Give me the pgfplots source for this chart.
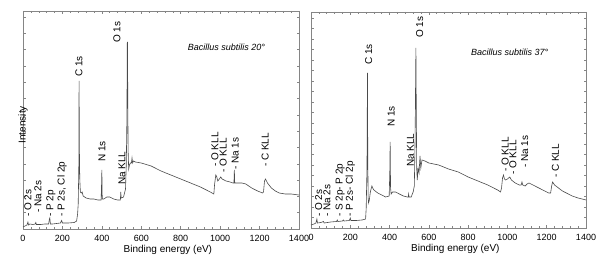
\documentclass[border=0pt]{standalone}
\usepackage{fontspec}
\setmainfont{Liberation Sans}
\usepackage{pgfplots}
\pgfplotsset{compat=1.18}
\definecolor{axgray}{HTML}{858585}
\definecolor{linegray}{HTML}{4A4A4A}

\pgfplotstableread{
be h
0 2
10 3
20 4
25 7
28 4
35 5
50 4.5
62 5
65 6.5
68 4.5
90 4.5
110 5
130 5
134 10
136 11
139 5
150 5
170 5.5
190 6
196 8.5
200 6
230 6
260 6.5
272 8
277 15
280 25
283 60
284.5 148
286 80
288 50
291 37
296 36
300 37
305 33
320 31
340 30
360 30
380 29
396 29
398 40
400 59
402 30
410 30
425 32
440 32
460 30
480 29
494 29
496 37
498 31
510 32
520 40
524 65
527 110
529 186
530 187
531 150
533 80
536 60
540 64
545 66
550 66
553 71
556 66
560 68
570 67
600 66
650 63
700 58
750 54
800 50
850 46
900 42
950 37
968 35
972 45
978 54
983 52
988 48
996 50
1003 52
1010 50
1030 48
1050 47
1065 46
1070 46
1072 59
1074 46
1090 46
1110 46
1130 45
1160 41
1190 38
1215 36
1220 37
1225 48
1230 50
1240 46
1260 41
1280 38
1300 36
1330 35
1360 35
1400 34
}\specA

\pgfplotstableread{
be h
0 3
15 4
25 5
30 9
33 5
50 5.5
64 6.5
67 5
100 6
130 6.5
134 8
137 6.5
160 7
165 8
168 7
195 7.5
200 10
203 7.5
230 7.5
260 8
278 9
281 20
285 60
287.5 155
289 70
291 30
293 25
297 28
302 36
310 42
314 40
320 38
340 35
360 33
380 31
398 32
401 55
403 86
405 40
408 34
415 36
430 36
450 34
470 32
490 31
495 31
497 34
499 31
510 31
520 36
526 42
530 90
534 180
536 120
538 60
541 48
545 60
550 55
555 72
559 60
565 68
580 67
600 65
650 63
700 59
750 56
800 51
850 47
900 43
950 38
965 36
970 40
975 50
980 53
985 49
990 48
1000 49
1012 51
1020 48
1040 45
1060 43
1070 43
1074 46
1078 43
1090 42
1100 44
1110 45
1120 44
1150 41
1180 38
1210 35
1220 35
1225 42
1230 46
1240 43
1260 40
1280 37
1300 35
1330 32
1360 30
1380 29
1400 28
}\specB

\pgfplotsset{
  xps/.style={
    scale only axis,
    anchor=south west,
    xmin=0, xmax=1400,
    xtick={0,200,...,1400},
    minor x tick num=4,
    ymin=0,
    yticklabels={},
    axis line style={axgray, line width=0.7bp},
    tick style={axgray, line width=0.5bp},
    major tick length=2.5bp,
    minor tick length=2bp,
    tick align=inside,
    ticklabel style={font=\fontsize{9bp}{10bp}\selectfont},
    xticklabel style={yshift=-2.5bp},
    /pgf/number format/assume math mode=true,
    /pgf/number format/1000 sep={},
    xlabel={Binding energy (eV)},
    xlabel style={font=\fontsize{10bp}{12bp}\selectfont, at={(axis description cs:0.525,0)}, anchor=center, yshift=-21bp},
    clip=false,
  },
  spec/.style={color=linegray, line width=0.6bp, mark=none},
}
\tikzset{
  pk/.style={rotate=90, anchor=west, inner sep=0pt, font=\fontsize{10bp}{12bp}\selectfont},
  ttl/.style={inner sep=0pt, font=\fontsize{9bp}{11bp}\selectfont\itshape},
}

\begin{document}
\begin{tikzpicture}
\useasboundingbox (0,0) rectangle (597bp,255bp);
\begin{axis}[xps, at={(23bp,26bp)}, width=276bp, height=218bp,
  ymax=218, ytick distance=16.3,
  ylabel={Intensity},
  ylabel style={font=\fontsize{10bp}{12bp}\selectfont, at={(axis description cs:0,0.515)}, anchor=center, xshift=-8bp}]
\addplot[spec] table[x=be, y=h] {\specA};
\node[pk] at (axis cs:25,12) {- O 2s};
\node[pk] at (axis cs:76,16) {- Na 2s};
\node[pk] at (axis cs:142,12) {- P 2p};
\node[pk] at (axis cs:198,12) {- P 2s, Cl 2p};
\node[pk] at (axis cs:284,152) {C 1s};
\node[pk] at (axis cs:401,67) {N 1s};
\node[pk] at (axis cs:502,44) {Na KLL};
\node[pk] at (axis cs:477,186) {O 1s};
\node[pk] at (axis cs:974,62) {- O KLL};
\node[pk] at (axis cs:1015,56) {- O KLL};
\node[pk] at (axis cs:1076,59) {- Na 1s};
\node[pk] at (axis cs:1228,62) {- C KLL};
\node[ttl] at (axis cs:1032,182) {Bacillus subtilis 20°};
\end{axis}
\begin{axis}[xps, at={(311bp,27bp)}, width=275bp, height=216bp,
  ymax=216, ytick distance=10.5]
\addplot[spec] table[x=be, y=h] {\specB};
\node[pk] at (axis cs:39,11) {- O 2s};
\node[pk] at (axis cs:81,11) {- Na 2s};
\node[pk] at (axis cs:149,11) {- S 2p- P 2p};
\node[pk] at (axis cs:200,11) {- P 2s- Cl 2p};
\node[pk] at (axis cs:294,163) {C 1s};
\node[pk] at (axis cs:409,101) {N 1s};
\node[pk] at (axis cs:506,61) {Na KLL};
\node[pk] at (axis cs:553,190) {O 1s};
\node[pk] at (axis cs:988,56) {- O KLL};
\node[pk] at (axis cs:1028,53) {- O KLL};
\node[pk] at (axis cs:1088,60) {- Na 1s};
\node[pk] at (axis cs:1244,50) {- C KLL};
\node[ttl] at (axis cs:1011,176) {Bacillus subtilis 37°};
\end{axis}
\end{tikzpicture}
\end{document}
